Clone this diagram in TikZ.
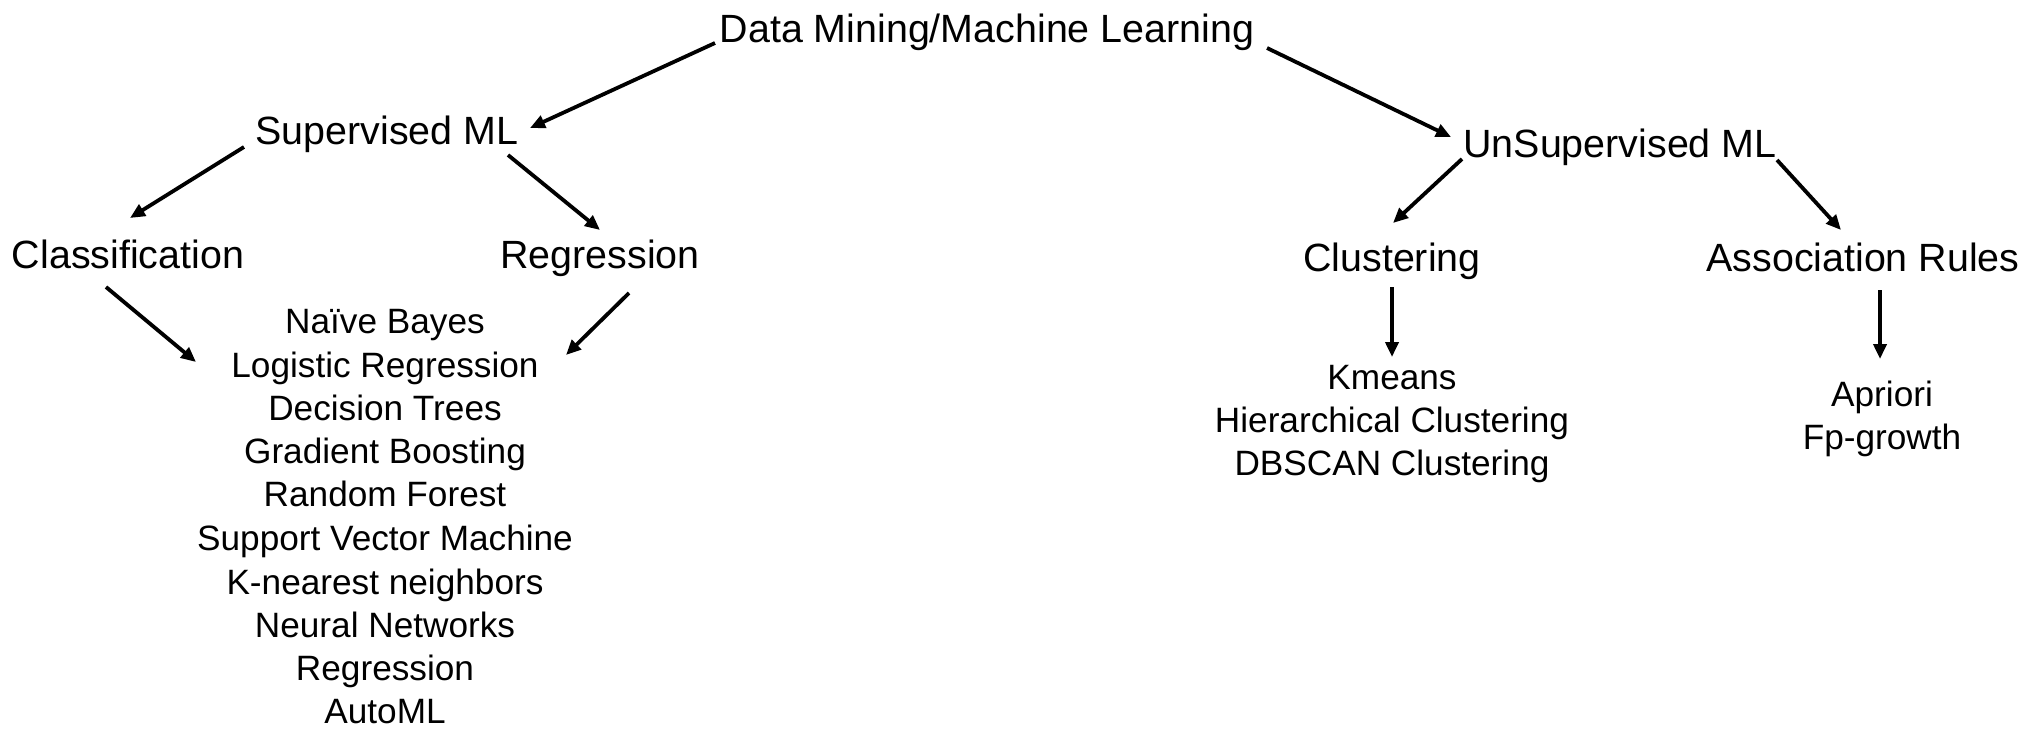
\documentclass[tikz,border=0pt]{standalone}
\usepackage{fontspec}
\setmainfont{Liberation Sans}
\usetikzlibrary{arrows.meta}
\tikzset{
  head/.style={inner sep=0pt, anchor=base, font=\fontsize{19.7}{24}\selectfont},
  item/.style={inner sep=0pt, anchor=base, font=\fontsize{17.6}{21}\selectfont},
  arr/.style={line width=1.9pt, -{Triangle[length=7.5pt,width=6.5pt]}}
}
\begin{document}
\begin{tikzpicture}[x=0.5pt,y=-0.5pt]
\useasboundingbox (0,0) rectangle (2044,728);
% headings
\node[head] (dm)  at (987,42)   {Data Mining/Machine Learning};
\node[head] (sup) at (387,144)  {Supervised ML};
\node[head] (uns) at (1620,157) {UnSupervised ML};
\node[head] (cla) at (128,268)  {Classification};
\node[head] (reg) at (600,268)  {Regression};
\node[head] (clu) at (1392,271) {Clustering};
\node[head] (aso) at (1863,271) {Association Rules};
% supervised list
\node[item] (nb) at (385,333) {Naïve Bayes};
\node[item] (lr) at (385,377) {Logistic Regression};
\node[item] (dt) at (385,420) {Decision Trees};
\node[item] (gb) at (385,463) {Gradient Boosting};
\node[item] (rf) at (385,506) {Random Forest};
\node[item] (sv) at (385,550) {Support Vector Machine};
\node[item] (kn) at (385,594) {K-nearest neighbors};
\node[item] (nn) at (385,637) {Neural Networks};
\node[item] (rg) at (385,680) {Regression};
\node[item] (am) at (385,723) {AutoML};
% clustering list
\node[item] (km) at (1392,389) {Kmeans};
\node[item] (hc) at (1392,432) {Hierarchical Clustering};
\node[item] (db) at (1392,475) {DBSCAN Clustering};
% association list
\node[item] (ap) at (1882,406) {Apriori};
\node[item] (fp) at (1882,449) {Fp-growth};
% connectors
\draw[arr] ([shift={(-272,1)}]dm.base) -- ([shift={(143,-16)}]sup.base);
\draw[arr] ([shift={(280,6)}]dm.base) -- ([shift={(-169,-20)}]uns.base);
\draw[arr] ([shift={(-143,3)}]sup.base) -- ([shift={(2,-50)}]cla.base);
\draw[arr] ([shift={(121,11)}]sup.base) -- ([shift={(0,-38)}]reg.base);
\draw[arr] ([shift={(-22,19)}]cla.base) -- ([shift={(-189,-15)}]lr.base);
\draw[arr] ([shift={(29,25)}]reg.base) -- ([shift={(181,-22)}]lr.base);
\draw[arr] ([shift={(-158,2)}]uns.base) -- ([shift={(1,-48)}]clu.base);
\draw[arr] ([shift={(157,3)}]uns.base) -- ([shift={(-22,-41)}]aso.base);
\draw[arr] ([shift={(0,16)}]clu.base) -- ([shift={(0,-32)}]km.base);
\draw[arr] ([shift={(17,19)}]aso.base) -- ([shift={(-2,-47)}]ap.base);
\end{tikzpicture}
\end{document}
